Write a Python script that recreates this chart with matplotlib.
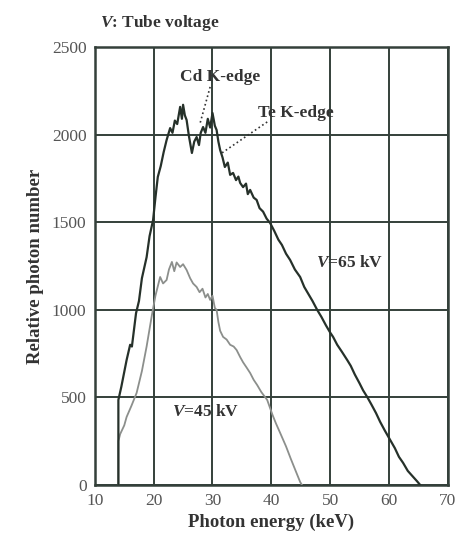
import matplotlib.pyplot as plt

# 65 kV spectrum
e65 = [14.0, 14.0, 14.5, 15.4, 16.0, 16.3, 17.0, 17.5, 18.0, 18.8, 19.3, 19.9, 20.3, 20.7,
       21.2, 21.7, 22.2, 22.8, 23.2, 23.6, 24.0, 24.5, 24.8, 25.0, 25.3, 25.6, 26.0, 26.5,
       26.9, 27.3, 27.7, 28.0, 28.4, 28.8, 29.2, 29.6, 30.0, 30.4, 30.7, 31.0, 31.3, 31.7,
       32.1, 32.6, 33.0, 33.5, 34.0, 34.4, 34.7, 35.2, 35.7, 36.0, 36.4, 37.0, 37.5, 38.0,
       38.6, 39.2, 39.8, 40.5, 41.2, 41.8, 42.5, 43.2, 44.0, 44.9, 45.6, 46.3, 47.0, 47.8,
       48.5, 49.3, 50.0, 50.5, 51.2, 52.0, 52.9, 53.5, 54.2, 55.0, 55.6, 56.3, 57.0, 57.8,
       58.5, 59.3, 60.2, 61.0, 61.7, 62.4, 63.2, 64.0, 64.8, 65.3]
n65 = [0, 485, 560, 713, 800, 790, 980, 1050, 1180, 1300, 1420, 1512, 1640, 1758,
       1820, 1900, 1969, 2037, 2010, 2080, 2060, 2158, 2090, 2170, 2110, 2083, 1990, 1895,
       1960, 1986, 1940, 2010, 2043, 2010, 2090, 2040, 2123, 2050, 2026, 1960, 1912, 1870,
       1815, 1840, 1770, 1781, 1740, 1760, 1724, 1700, 1720, 1660, 1684, 1640, 1627, 1580,
       1560, 1520, 1495, 1450, 1400, 1370, 1320, 1284, 1230, 1187, 1130, 1090, 1050, 999,
       960, 910, 870, 845, 800, 760, 713, 680, 630, 580, 540, 502, 460, 410,
       360, 310, 257, 210, 160, 126, 80, 50, 20, 0]

# 45 kV spectrum
e45 = [14.0, 14.0, 14.3, 15.0, 15.4, 16.2, 17.1, 18.0, 18.8, 19.7, 20.3, 21.1, 21.6, 22.2,
       22.6, 23.1, 23.5, 23.9, 24.5, 25.0, 25.6, 26.2, 26.7, 27.3, 27.8, 28.3, 28.8, 29.2,
       29.6, 30.0, 30.4, 30.7, 31.0, 31.3, 31.8, 32.4, 33.0, 33.6, 34.1, 34.7, 35.2, 35.8,
       36.4, 37.0, 37.6, 38.3, 39.3, 40.2, 40.8, 41.5, 42.5, 43.3, 44.2, 44.9, 45.2]
n45 = [0, 250, 290, 340, 388, 450, 525, 650, 790, 970, 1080, 1187, 1150, 1170,
       1230, 1273, 1220, 1270, 1244, 1260, 1227, 1180, 1150, 1130, 1100, 1120, 1070, 1090,
       1056, 1080, 1010, 999, 930, 880, 845, 830, 800, 790, 770, 730, 700, 670,
       639, 600, 570, 530, 485, 400, 350, 297, 220, 150, 75, 17, 0]

xticks = [10, 20, 30, 40, 50, 60, 70]
yticks = [0, 500, 1000, 1500, 2000, 2500]

plt.rcParams['font.family'] = ['Liberation Serif', 'DejaVu Serif']
plt.rcParams['mathtext.fontset'] = 'custom'
plt.rcParams['mathtext.it'] = 'Liberation Serif:italic:bold'
plt.rcParams['mathtext.rm'] = 'Liberation Serif:bold'

fig = plt.figure(figsize=(4.56, 5.4), dpi=100)
ax = fig.add_axes([0.208, 0.102, 0.774, 0.811])

grid_col = '#34403a'
txt_col = '#333333'
ax.plot(e45, n45, color='#8c8f8c', lw=1.3, zorder=3)
ax.plot(e65, n65, color='#26312a', lw=1.6, zorder=4)

ax.set_xlim(10, 70)
ax.set_ylim(0, 2500)
ax.set_xticks(xticks)
ax.set_yticks(yticks)
ax.grid(True, color=grid_col, lw=1.4)
ax.tick_params(length=0, labelsize=12.5, labelcolor='#555555', pad=6)
for s in ax.spines.values():
    s.set_color(grid_col)
    s.set_linewidth(1.8)

ax.set_xlabel('Photon energy (keV)', fontsize=13.5, fontweight='bold', color=txt_col, labelpad=3)
ax.set_ylabel('Relative photon number', fontsize=13.5, fontweight='bold', color=txt_col, labelpad=6)

fig.text(0.219, 0.958, '$V$: Tube voltage', fontsize=12.5, fontweight='bold',
         color=txt_col, va='center')

# K-edge annotations
ax.plot([29.6, 27.9], [2272, 2066], ls=':', color=txt_col, lw=1.2, zorder=5)
ax.plot([39.3, 31.6], [2072, 1895], ls=':', color=txt_col, lw=1.2, zorder=5)
ax.text(31.3, 2329, 'Cd K-edge', fontsize=12.5, fontweight='bold', color=txt_col,
        ha='center', va='center', zorder=6)
ax.text(44.2, 2123, 'Te K-edge', fontsize=12.5, fontweight='bold', color=txt_col,
        ha='center', va='center', zorder=6)
ax.text(53.3, 1267, '$V$=65 kV', fontsize=12.5, fontweight='bold', color=txt_col,
        ha='center', va='center', zorder=6)
ax.text(28.8, 417, '$V$=45 kV', fontsize=12.5, fontweight='bold', color=txt_col,
        ha='center', va='center', zorder=6)

fig.savefig('out.png', dpi=100)
